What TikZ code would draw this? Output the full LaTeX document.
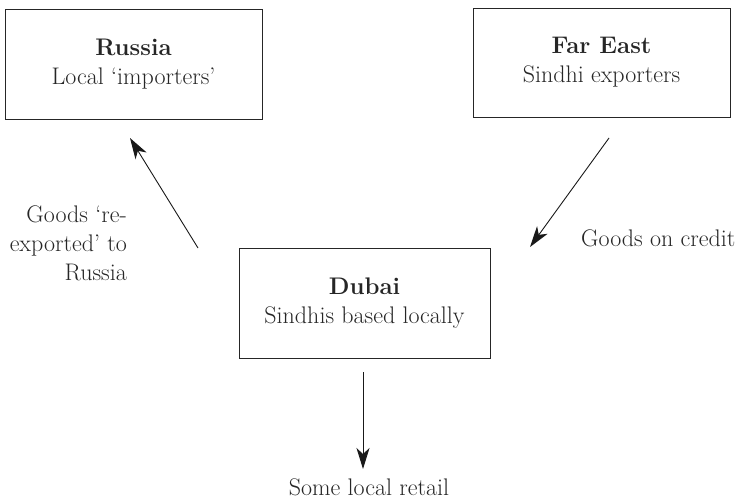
\documentclass[tikz,border=0pt]{standalone}
\usetikzlibrary{arrows.meta}
\begin{document}
\begin{tikzpicture}[x=1pt,y=-1pt,
  every node/.style={font=\fontsize{24}{29}\selectfont, text=black!85},
  place/.style={draw=black!85, line width=0.9pt, align=center, inner sep=0pt},
  flow/.style={draw=black!90, line width=0.9pt, -{Stealth[length=21pt,width=13pt,inset=6pt]}},
  lbl/.style={inner sep=0pt}]
\useasboundingbox (0,0) rectangle (746,502);
% the three trading places
\node[place, minimum width=257pt, minimum height=110pt] (russia) at (133.5,64)
  {\textbf{Russia}\\Local `importers'};
\node[place, minimum width=257pt, minimum height=109pt] (fareast) at (601.5,62.5)
  {\textbf{Far East}\\Sindhi exporters};
\node[place, minimum width=251pt, minimum height=110pt] (dubai) at (364.5,303)
  {\textbf{Dubai}\\Sindhis based locally};
% arrow ends
\coordinate (rexp) at (198,248);
\coordinate (rtip) at (130,138);
\coordinate (fstart) at (609,138);
\coordinate (ftip) at (530,247);
\coordinate (dstart) at (363,372);
\coordinate (dtip) at (363,469);
\draw[flow] (rexp) -- (rtip);
\draw[flow] (fstart) -- (ftip);
\draw[flow] (dstart) -- (dtip);
% labels
\node[lbl, align=right, anchor=east] (reexp) at (127,243) {Goods `re-\\exported' to\\Russia};
\node[lbl, anchor=west] (credit) at (581,238) {Goods on credit};
\node[lbl] (retail) at (369,487) {Some local retail};
\end{tikzpicture}
\end{document}
